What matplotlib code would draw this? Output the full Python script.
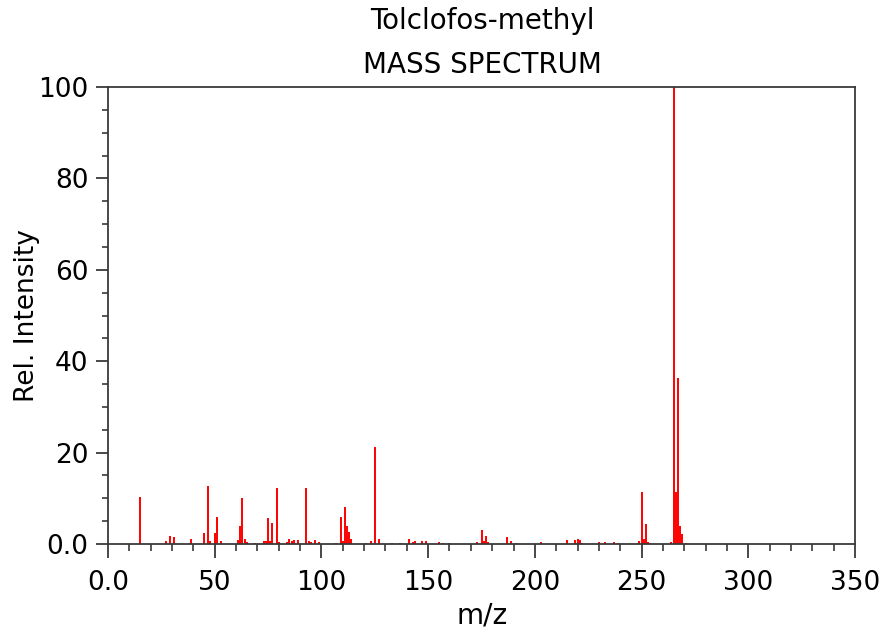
"""Draw the EI mass spectrum of Tolclofos-methyl as a stick plot."""

import matplotlib
matplotlib.use("Agg")  # Non-interactive backend
import matplotlib.pyplot as plt
from matplotlib.ticker import MultipleLocator

COMPOUND = "Tolclofos-methyl"

# m/z values and relative intensities (base peak = 100)
mz = [
    15, 27, 29, 31, 39, 45, 47, 48, 50, 51, 53,
    61, 62, 63, 64, 65, 69, 73, 74, 75, 76, 77, 79, 80,
    84, 85, 86, 87, 89, 93, 94, 95, 97, 99,
    107, 109, 110, 111, 112, 113, 114, 121, 123, 125, 127,
    133, 137, 141, 143, 144, 147, 149, 155, 157, 160,
    173, 175, 176, 177, 178, 187, 189, 191, 203,
    215, 219, 220, 221, 222, 230, 233, 237, 239,
    249, 250, 251, 252, 253, 254,
    264, 265, 266, 267, 268, 269, 271,
]
intensity = [
    10.3, 0.6, 1.7, 1.5, 1.0, 2.3, 12.7, 0.6, 2.3, 5.8, 0.6,
    0.9, 4.0, 10.0, 1.1, 0.5, 0.3, 0.7, 0.7, 5.6, 0.7, 4.5, 12.2, 0.5,
    0.5, 1.0, 0.7, 0.9, 0.9, 12.3, 0.6, 0.5, 0.9, 0.4,
    0.3, 5.8, 0.6, 8.0, 3.9, 2.7, 1.2, 0.3, 0.6, 21.2, 1.0,
    0.2, 0.2, 1.0, 0.5, 0.7, 0.7, 0.7, 0.5, 0.2, 0.2,
    0.4, 3.0, 0.6, 1.7, 0.5, 1.5, 0.6, 0.3, 0.5,
    0.8, 0.8, 1.0, 0.8, 0.3, 0.4, 0.4, 0.4, 0.2,
    0.7, 11.4, 1.2, 4.4, 0.4, 0.3,
    0.5, 100.0, 11.4, 36.3, 3.9, 2.2, 0.3,
]

x_ticks = [0, 50, 100, 150, 200, 250, 300, 350]
x_tick_labels = ["0.0", "50", "100", "150", "200", "250", "300", "350"]
y_ticks = [0, 20, 40, 60, 80, 100]
y_tick_labels = ["0.0", "20", "40", "60", "80", "100"]

W, H = 884, 630


def fx(px):
    return px / W


def fy(py):
    return 1 - py / H


def draw_spectrum(output_path="out.png"):
    plt.rcParams["font.family"] = ["DejaVu Sans"]

    fig = plt.figure(figsize=(W / 100, H / 100), dpi=100)
    # plot box in pixel terms: x 108..855, y 87..544
    ax = fig.add_axes([fx(108), fy(544), fx(855) - fx(108), fy(87) - fy(544)])

    # one vertical stick per ion
    ax.vlines(mz, 0, intensity, colors="#ff0000", linewidth=1.4)

    ax.set_xlim(x_ticks[0], x_ticks[-1])
    ax.set_ylim(y_ticks[0], y_ticks[-1])

    ax.set_xticks(x_ticks)
    ax.set_xticklabels(x_tick_labels)
    ax.set_yticks(y_ticks)
    ax.set_yticklabels(y_tick_labels)
    ax.xaxis.set_minor_locator(MultipleLocator(10))
    ax.yaxis.set_minor_locator(MultipleLocator(5))

    spine_color = "#3a3a3a"
    for side in ("top", "right", "bottom", "left"):
        ax.spines[side].set_color(spine_color)
        ax.spines[side].set_linewidth(1.3)

    ax.tick_params(axis="x", which="major", direction="out", length=10,
                   width=1.3, color=spine_color, labelsize=19, pad=9)
    ax.tick_params(axis="x", which="minor", direction="out", length=5,
                   width=1.2, color=spine_color)
    ax.tick_params(axis="y", which="major", direction="out", length=9,
                   width=1.3, color=spine_color, labelsize=19, pad=5)
    ax.tick_params(axis="y", which="minor", direction="out", length=4.5,
                   width=1.2, color=spine_color)
    ax.tick_params(top=False, right=False, which="both")

    # titles and axis labels placed by baseline
    fig.text(fx(482), fy(29), COMPOUND, fontsize=20, ha="center",
             va="baseline")
    fig.text(fx(482), fy(73), "MASS SPECTRUM", fontsize=20, ha="center",
             va="baseline")
    fig.text(fx(482), fy(623), "m/z", fontsize=20, ha="center",
             va="baseline")
    fig.text(fx(34), fy(316), "Rel. Intensity", fontsize=19, rotation=90,
             rotation_mode="anchor", ha="center", va="baseline")

    fig.savefig(output_path, dpi=100, facecolor="white")
    plt.close(fig)
    return output_path


if __name__ == "__main__":
    draw_spectrum()
